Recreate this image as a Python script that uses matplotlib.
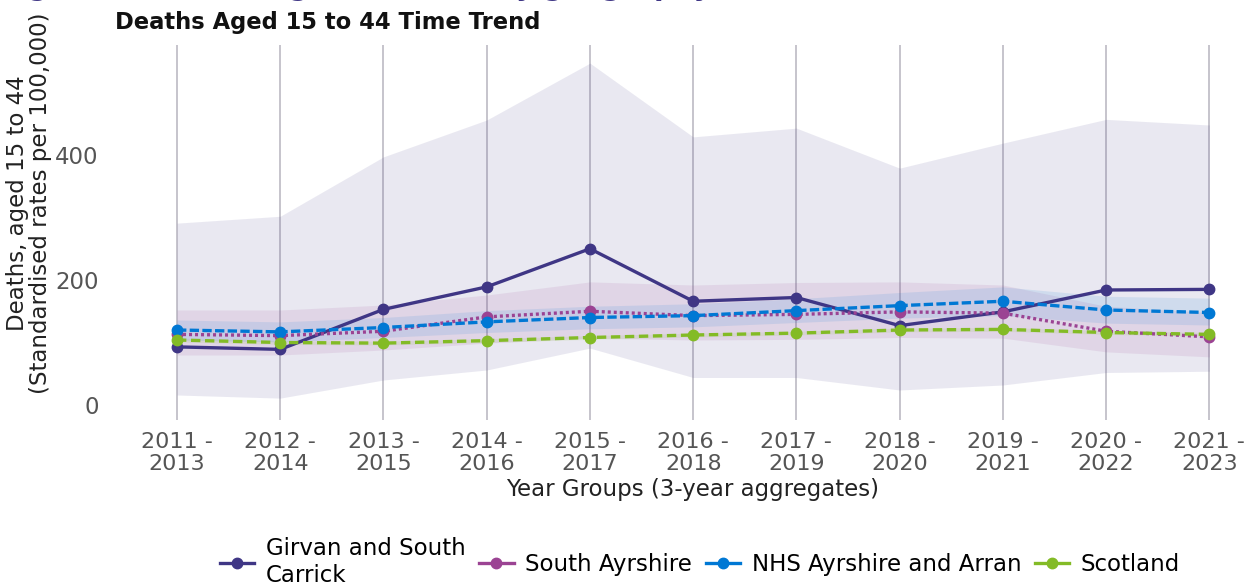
import matplotlib
matplotlib.use("Agg")
import matplotlib.pyplot as plt
from matplotlib.lines import Line2D

# ---- data ----
year_groups = ["2011 -\n2013", "2012 -\n2014", "2013 -\n2015", "2014 -\n2016", "2015 -\n2017",
               "2016 -\n2018", "2017 -\n2019", "2018 -\n2020", "2019 -\n2021", "2020 -\n2022",
               "2021 -\n2023"]

girvan = [93, 89, 153, 189, 250, 166, 172, 127, 149, 184, 185]
girvan_lo = [16, 11, 40, 56, 91, 44, 44, 24, 32, 52, 54]
girvan_hi = [291, 302, 397, 456, 547, 429, 443, 379, 419, 457, 448]

south_ayr = [113, 111, 118, 141, 150, 143, 145, 149, 147, 118, 109]
south_ayr_lo = [80, 80, 88, 99, 107, 104, 105, 108, 107, 85, 77]
south_ayr_hi = [152, 152, 160, 176, 197, 192, 196, 197, 192, 158, 148]

nhs = [120, 117, 124, 133, 140, 143, 151, 159, 166, 152, 148]
nhs_lo = [104, 101, 108, 116, 122, 125, 132, 139, 143, 131, 128]
nhs_hi = [136, 133, 140, 151, 158, 162, 170, 180, 189, 174, 171]

scotland = [104, 100, 99, 103, 108, 112, 115, 120, 121, 116, 113]
scotland_lo = [101, 97, 96, 100, 105, 109, 112, 117, 118, 113, 110]
scotland_hi = [107, 103, 102, 106, 111, 115, 118, 123, 124, 119, 116]

series_names = ["Girvan and South\nCarrick", "South Ayrshire", "NHS Ayrshire and Arran", "Scotland"]
colors = ["#3F3685", "#9B4393", "#0078D4", "#83BB26"]
yticks = [0, 200, 400]

# ---- figure ----
W, H = 1255, 586
fig = plt.figure(figsize=(W / 100, H / 100), dpi=100)
ax = fig.add_axes([125 / W, (H - 420) / H, (1230 - 125) / W, 375 / H])

x = list(range(len(year_groups)))
data = [
    (girvan, girvan_lo, girvan_hi, None),
    (south_ayr, south_ayr_lo, south_ayr_hi, (0, (0.9, 0.9))),
    (nhs, nhs_lo, nhs_hi, (0, (2.8, 1.0))),
    (scotland, scotland_lo, scotland_hi, (0, (2.8, 1.4))),
]

for (vals, lo, hi, dash), c in zip(data, colors):
    ax.fill_between(x, lo, hi, color=c, alpha=0.11, linewidth=0, zorder=1)

handles = []
for (vals, lo, hi, dash), c, name in zip(data, colors, series_names):
    ax.plot(x, vals, color=c, linewidth=2.4, marker="o", markersize=7.5, zorder=3,
            linestyle=dash if dash is not None else "-")
    handles.append(Line2D([0], [0], color=c, linewidth=2.4, marker="o", markersize=7.5,
                          linestyle="-", label=name))

ax.set_xlim(-0.504, 10.2)
ax.set_ylim(-24, 576)
ax.set_xticks(x)
ax.set_xticklabels(year_groups, fontsize=16, color="#555555", linespacing=1.1)
ax.set_yticks(yticks)
ax.set_yticklabels([str(v) for v in yticks], fontsize=16.5, color="#555555")
ax.tick_params(axis="both", length=0)
ax.tick_params(axis="x", pad=9)
ax.tick_params(axis="y", pad=19)
ax.grid(axis="x", color="#c6c4cc", linewidth=1.4, zorder=0)
ax.grid(axis="y", visible=False)
ax.set_axisbelow(True)
for s in ax.spines.values():
    s.set_visible(False)

ax.set_xlabel("Year Groups (3-year aggregates)", fontsize=16.5, color="#222222")
ax.xaxis.set_label_coords((693 - 125) / 1105, -0.155)
fig.text(29 / W, 1 - 203 / H, "Deaths, aged 15 to 44\n(Standardised rates per 100,000)",
         fontsize=16.5, color="#222222", rotation=90, ha="center", va="center",
         linespacing=1.0)

fig.text(115 / W, 1 - 22 / H, "Deaths Aged 15 to 44 Time Trend", fontsize=16.3,
         fontweight="bold", color="#111111", ha="left", va="center")
fig.text(0.0, 1 + 5 / H, "Figure 5: Deaths aged 15 to 44 by geography", fontsize=20,
         fontweight="bold", color="#3F3685", ha="left", va="baseline")

fig.legend(handles=handles, loc="center", bbox_to_anchor=(700 / W, 1 - 562 / H), ncol=4,
           frameon=False, fontsize=16.5, handlelength=1.5, handletextpad=0.5,
           columnspacing=0.6, labelspacing=0.2)

fig.savefig("out.png", dpi=100)
